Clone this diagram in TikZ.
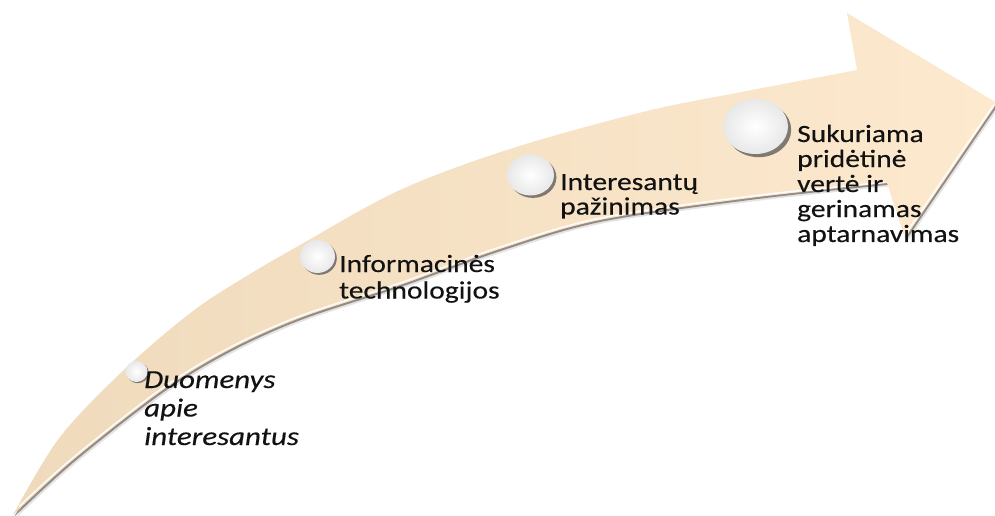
\documentclass[tikz,border=0pt]{standalone}
\usepackage{fontspec}
\setmainfont{Carlito}[FakeStretch=1.19,FakeBold=0.35]
\usetikzlibrary{shapes.geometric,shadows}
\definecolor{shaftc}{RGB}{239,218,188}
\definecolor{headc}{RGB}{253,233,206}
\definecolor{txt}{RGB}{18,18,18}
\newcommand\arrowshape{plot[smooth,tension=0.55] coordinates {(13,515) (60,437) (127,367) (193,311) (245,277) (300,245) (400,190) (513,148) (647,111) (747,91) (857,70)} -- (847,13) -- (997,103) -- (905,238) -- (887,183) -- plot[smooth,tension=0.55] coordinates {(887,183) (750,198) (600,220) (500,249) (400,285) (300,318) (227,351) (160,392) (73,460) (13,515)} -- cycle}
\begin{document}
\begin{tikzpicture}[x=1pt,y=-1pt,
  bead/.style={ellipse, inner sep=0pt, draw=none, shade, inner color=white, outer color=black!9,
    drop shadow={shadow xshift=#1, shadow yshift=-#1, fill=black!70, opacity=0.7}},
  lbl/.style={anchor=base west, inner sep=0pt, text=txt}]
\useasboundingbox (0,0) rectangle (995,516);
% arrow shadow
\begin{scope}[xshift=2.5pt,yshift=-3.5pt]
  \fill[black!70, opacity=0.15] \arrowshape;
\end{scope}
\begin{scope}[xshift=1.2pt,yshift=-1.8pt]
  \fill[black!75!brown, opacity=0.45] \arrowshape;
\end{scope}
% arrow body
\shade[left color=shaftc, right color=headc] \arrowshape;
% bevel highlights
\draw[white, line width=1.5pt, opacity=0.9, xshift=-0.7pt, yshift=1.7pt, line cap=round]
  plot[smooth,tension=0.55] coordinates {(885,184) (750,198) (600,220) (500,249) (400,285) (300,318) (227,351) (160,392) (73,460) (20,508)};
\draw[white, line width=1.5pt, opacity=0.9, xshift=-1.2pt, yshift=1.2pt, line cap=round] (995,106) -- (906,236);
% beads
\node[bead=1.2pt, minimum width=22pt, minimum height=21pt] (c1) at (136.5,371.5) {};
\node[bead=1.8pt, minimum width=35pt, minimum height=33pt] (c2) at (317.5,256.5) {};
\node[bead=2.4pt, minimum width=47pt, minimum height=41pt] (c3) at (530.5,175) {};
\node[bead=3.2pt, minimum width=65pt, minimum height=55pt] (c4) at (755.5,126.5) {};
% labels
\node[lbl] (l1) at (144,388) {\fontsize{26}{28.5}\selectfont\itshape\begin{tabular}[t]{@{}l@{}}Duomenys\\apie\\interesantus\end{tabular}};
\node[lbl] (l2) at (339,272) {\fontsize{24.8}{26.5}\selectfont\begin{tabular}[t]{@{}l@{}}Informacinės\\technologijos\end{tabular}};
\node[lbl] (l3) at (560,190) {\fontsize{24.8}{24.5}\selectfont\begin{tabular}[t]{@{}l@{}}Interesantų\\pažinimas\end{tabular}};
\node[lbl] (l4) at (797,142) {\fontsize{24.8}{25}\selectfont\begin{tabular}[t]{@{}l@{}}Sukuriama\\pridėtinė\\vertė ir\\gerinamas\\aptarnavimas\end{tabular}};
\end{tikzpicture}
\end{document}
